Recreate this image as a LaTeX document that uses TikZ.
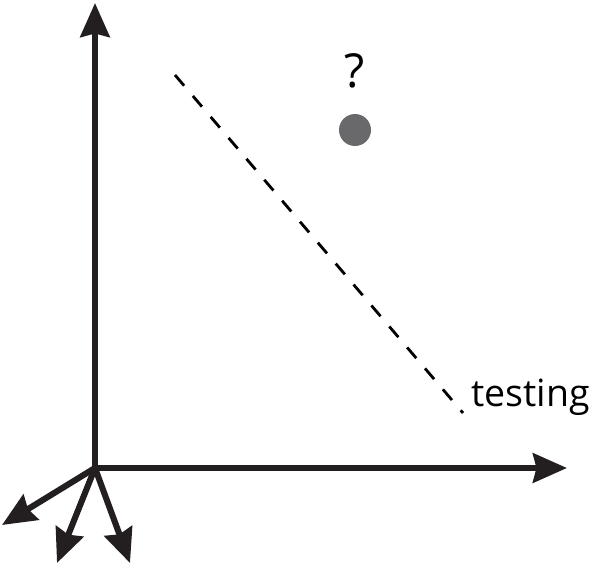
\documentclass[tikz,border=0pt]{standalone}
\usepackage{fontspec}
\setmainfont{Open Sans}
\usetikzlibrary{arrows.meta}
\definecolor{axisgray}{RGB}{35,31,32}
\definecolor{dotgray}{RGB}{105,105,108}
\tikzset{
    axis line/.style={
        draw=axisgray,line width=5.2pt
    },
    guess line/.style={
        draw=black,line width=2.4pt,dash pattern=on 12pt off 11.5pt
    },
    >={Stealth[length=29pt,width=25pt,inset=3pt]}
}
\begin{document}
\begin{tikzpicture}[x=0.03cm,y=-0.03cm]
\useasboundingbox (0,0) rectangle (591,563);
\coordinate (origin) at (95,468);
\coordinate (y_tip) at (95,3);
\coordinate (x_tip) at (567,468);
\coordinate (low_1) at (2,525);
\coordinate (low_2) at (57,563);
\coordinate (low_3) at (130,563);
\draw[axis line,->] (origin) -- (y_tip);
\draw[axis line,->] (origin) -- (x_tip);
\foreach \i in {1,2,3}
    \draw[axis line,->] (origin) -- (low_\i);
\coordinate (line_start) at (175,75);
\coordinate (line_end) at (463,413);
\draw[guess line] (line_start) -- (line_end);
\node[anchor=base east,inner sep=0pt,font=\fontsize{32}{38}\selectfont] (label) at (590,406) {testing};
\node[circle,fill=dotgray,minimum size=32*0.03cm,inner sep=0pt] (dot) at (355,130) {};
\node[font=\fontsize{40}{46}\selectfont,inner sep=0pt] (query) at (355,71) {?};
\end{tikzpicture}
\end{document}
